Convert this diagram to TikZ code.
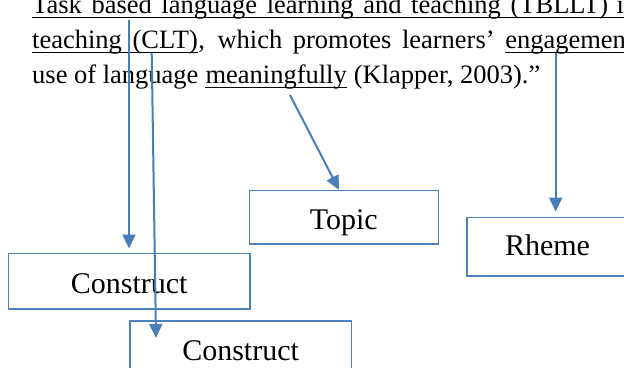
\documentclass[tikz,border=0pt]{standalone}
\usepackage{fontspec}
\setmainfont{Liberation Serif}
\usetikzlibrary{arrows.meta}
\definecolor{arrblue}{HTML}{4A7EBB}
\definecolor{boxblue}{HTML}{4F81BD}
\begin{document}
\begin{tikzpicture}[x=1pt,y=-1pt,
  body/.style={inner sep=0pt, anchor=base west, font=\fontsize{26.5}{31}\selectfont},
  uline/.style={line width=1.4pt, black},
  box/.style={draw=boxblue, fill=white, line width=1.6pt, inner sep=0pt,
    font=\fontsize{30}{34}\selectfont, text depth=6pt},
  arr/.style={draw=arrblue, line width=2pt, -{Triangle[length=14pt,width=13pt]}}]
\useasboundingbox (0,0) rectangle (624,367);
\clip (0,0) rectangle (624,367);
\fill[white] (0,0) rectangle (624,367);

% line 1
\node[body] (l1) at (32,13.3) {\makebox[576pt][s]{Task based language learning and teaching (TBLLT)}};
\node[body] (l1b) at (616.5,13.3) {is};
\draw[uline] ([yshift=-4.3pt]l1.base west) -- ([yshift=-4.3pt]l1b.base east);

% line 2
\node[body] (l2a) at (32,48.3) {teaching};
\node[body] (l2b) at (132.4,48.3) {(CLT)};
\node[body] (l2c) at (l2b.base east) {,};
\node[body] (l2d) at (217.3,48.3) {which};
\node[body] (l2e) at (292.7,48.3) {promotes};
\node[body] (l2f) at (401.8,48.3) {learners’};
\node[body] (l2g) at (505.1,48.3) {engagement};
\draw[uline] ([yshift=-4.3pt]l2a.base west) -- ([yshift=-4.3pt]l2b.base east);
\draw[uline] ([yshift=-4.3pt]l2g.base west) -- ([yshift=-4.3pt]l2g.base east);

% line 3
\node[body] (l3a) at (32,83.3) {use of language};
\node[body] (l3b) at ([xshift=6.6pt]l3a.base east) {meaningfully};
\node[body] (l3c) at ([xshift=6.6pt]l3b.base east) {(Klapper, 2003).”};
\draw[uline] ([yshift=-4.3pt]l3b.base west) -- ([yshift=-4.3pt]l3b.base east);

% boxes
\node[box, minimum width=241.7pt, minimum height=55.4pt, text height=30.6pt] (con1) at (129.2,281) {Construct};
\node[box, minimum width=189pt, minimum height=53.3pt, text height=30pt] (topic) at (343.8,217.3) {Topic};
\node[box, minimum width=161.6pt, minimum height=58.7pt, text height=22.6pt] (rheme) at (547.5,246.7) {Rheme};
\node[box, minimum width=221.4pt, minimum height=55.4pt, text height=29.2pt] (con2) at (240.6,348.4) {Construct};

% arrows
\coordinate (a1s) at (129,19.5);
\draw[arr, shorten >=4pt] (a1s) -- (a1s |- con1.north);
\coordinate (a2s) at (151.7,52.5);
\coordinate (a2e) at (156,338);
\draw[arr] (a2s) -- (a2e);
\coordinate (a3s) at (290,95);
\draw[arr] (a3s) -- ([xshift=-4.8pt]topic.north);
\coordinate (a4s) at (555.7,52.5);
\draw[arr, shorten >=5pt] (a4s) -- (a4s |- rheme.north);
\end{tikzpicture}
\end{document}
